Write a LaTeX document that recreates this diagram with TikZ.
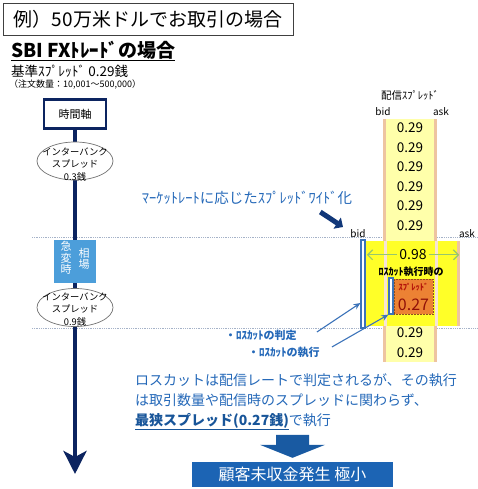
\documentclass[tikz,border=0pt]{standalone}
\usepackage{fontspec}
\setmainfont{Noto Sans CJK JP}
\usetikzlibrary{arrows.meta, positioning, shapes.geometric}
\definecolor{cNavy}{RGB}{12,36,96}
\definecolor{cSky}{RGB}{76,158,218}
\definecolor{cText}{RGB}{36,104,184}
\definecolor{cStrip}{RGB}{255,255,170}
\definecolor{cEdge}{RGB}{238,196,160}
\definecolor{cYellow}{RGB}{255,255,40}
\definecolor{cOrange}{RGB}{236,130,52}
\definecolor{cRed}{RGB}{180,20,10}
\definecolor{cGreen}{RGB}{150,198,110}
\definecolor{cGuide}{RGB}{165,178,200}
\definecolor{cBar}{RGB}{60,115,185}
\definecolor{cDeep}{RGB}{28,100,180}
\tikzset{
  basebox/.style={rectangle, align=center, inner sep=0pt},
  titlebox/.style={basebox, draw=black!75, line width=0.9pt,
                   minimum width=290pt, minimum height=32pt,
                   font=\fontsize{19}{21}\selectfont},
  axisbox/.style={basebox, draw=cNavy, line width=2.4pt, fill=white,
                  minimum width=62pt, minimum height=29pt,
                  font=\fontsize{11}{12}\selectfont},
  bankoval/.style={ellipse, draw=black!55, line width=0.7pt, fill=white,
                   minimum width=76pt, minimum height=38pt, inner sep=0pt},
  ovaltext/.style={basebox, font=\fontsize{9.3}{12.5}\selectfont},
  eventbox/.style={basebox, fill=cSky, minimum width=42pt, minimum height=43pt},
  eventtext/.style={basebox, text=white, font=\fontsize{11}{11.5}\selectfont},
  plain/.style={inner sep=0pt, font=\fontsize{10.5}{12}\selectfont},
  rate/.style={inner sep=0pt, font=\fontsize{13.5}{14}\selectfont},
  sidetag/.style={inner sep=0pt, font=\fontsize{10}{11}\selectfont},
  bluetext/.style={inner sep=0pt, text=cText},
  stripbox/.style={basebox, fill=cStrip, minimum width=54pt, minimum height=243pt},
  spikebox/.style={basebox, fill=cYellow, minimum width=92pt, minimum height=85pt},
  barbox/.style={rectangle, draw=cBar, line width=1.2pt, fill=white,
                 inner sep=0pt, minimum width=4pt},
  timeline/.style={-{Stealth[length=23pt, width=23pt, inset=6pt]},
                   line width=4.5pt, draw=cNavy},
  guide/.style={densely dotted, line width=0.8pt, draw=cGuide},
  edge/.style={line width=3pt, draw=cEdge},
  spanarrow/.style={{Straight Barb[length=5pt,width=10pt]}-{Straight Barb[length=5pt,width=10pt]},
                    line width=1.2pt, draw=cGreen},
  pointer/.style={-{Stealth[length=7pt,width=6pt]}, line width=1.1pt, draw=cBar},
  fatarrow/.style={-{Triangle[length=7pt,width=13pt]}, line width=5pt, draw=cNavy!70!cDeep}
}

\begin{document}
\begin{tikzpicture}[x=1pt, y=-1pt]
  \useasboundingbox (0,0) rectangle (478,489);

  % heading
  \node[titlebox] (title) at (148,19) {例）50万米ドルでお取引の場合};
  \node[inner sep=0pt, anchor=west, font=\fontsize{19}{20}\selectfont\bfseries] (sbi) at (11,51) {\underline{SBI FXﾄﾚｰﾄﾞの場合}};
  \node[plain, anchor=west, font=\fontsize{13.5}{14}\selectfont] (base) at (11,71) {基準ｽﾌﾟﾚｯﾄﾞ 0.29銭};
  \node[inner sep=0pt, anchor=west, font=\fontsize{9}{10}\selectfont] (lot) at (9,85) {（注文数量：10,001～500,000）};

  % time axis
  \draw[guide] (32,237) -- (478,237);
  \draw[guide] (32,328) -- (478,328);
  \node[axisbox] (axis) at (75,114) {時間軸};
  \coordinate (axisend) at (75,474);
  \draw[timeline] (axis) -- (axisend);
  \node[bankoval] (bank1) at (75,161) {};
  \node[ovaltext] (bank1txt) at (75,164.5) {インターバンク\\スプレッド\\0.3銭};
  \node[eventbox] (sudden) at (75,261.5) {};
  \node[eventtext] (suddenR) at (84,259) {相\\場};
  \node[eventtext] (suddenL) at (66,258) {急\\変\\時};
  \node[bankoval] (bank2) at (75,307.5) {};
  \node[ovaltext] (bank2txt) at (75,309.5) {インターバンク\\スプレッド\\0.9銭};

  % feed spread column
  \node[stripbox] (strip) at (410,240.5) {};
  \draw[edge] ([xshift=1.5pt]strip.north west) -- ([xshift=1.5pt]strip.south west);
  \draw[edge] ([xshift=-1.5pt]strip.north east) -- ([xshift=-1.5pt]strip.south east);
  \node[plain] (feed) at (410,95) {配信ｽﾌﾟﾚｯﾄﾞ};
  \node[sidetag] (bid1) at (383,112) {bid};
  \node[sidetag] (ask1) at (441,112) {ask};
  \foreach \y [count=\i] in {128,147.5,167,186.5,206,225.5}
    \node[rate] (top\i) at (410,\y) {0.29};
  \node[rate] (low1) at (410,333) {0.29};
  \node[rate] (low2) at (410,353) {0.29};

  % widened spread
  \node[spikebox] (spike) at (411,283.5) {};
  \draw[edge, draw=cEdge!45] ([xshift=-26pt]spike.north) -- ([xshift=-26pt]spike.south);
  \draw[edge, draw=cEdge!45] ([xshift=25pt]spike.north) -- ([xshift=25pt]spike.south);
  \draw[edge] ([xshift=1.5pt]spike.north east) -- ([xshift=1.5pt]spike.south east);
  \node[barbox, minimum height=88pt] (bidbar) at (363,284) {};
  \node[sidetag] (bid2) at (358,234) {bid};
  \node[sidetag] (ask2) at (467,234) {ask};
  \draw[spanarrow] ([xshift=2pt,yshift=-14pt]spike.north west) -- node[rate, fill=cYellow, inner xsep=2pt, font=\fontsize{14}{15}\selectfont] (gap) {0.98} ([xshift=2pt,yshift=-14pt]spike.north east);
  \node[inner sep=0pt, font=\fontsize{10}{11}\selectfont\bfseries] (lchead) at (411,272) {ﾛｽｶｯﾄ執行時の};
  \node[basebox, fill=cOrange, draw=cOrange!60!black, densely dotted, line width=0.5pt,
        minimum width=39pt, minimum height=35pt] (losscut) at (413.5,296.5) {};
  \node[inner sep=0pt, text=cRed, font=\fontsize{8.5}{9}\selectfont\bfseries] (lcspr) at (413.5,287) {ｽﾌﾟﾚｯﾄﾞ};
  \node[inner sep=0pt, text=cRed!80!black, font=\fontsize{16}{17}\selectfont] (lcval) at (413.5,305) {0.27};
  \node[barbox, minimum height=36pt] (execbar) at (391,296) {};

  % notes
  \node[bluetext, font=\fontsize{14.5}{15}\selectfont] (widen) at (247,198) {ﾏｰｹｯﾄﾚｰﾄに応じたｽﾌﾟﾚｯﾄﾞﾜｲﾄﾞ化};
  \coordinate (widentip) at (343,227);
  \draw[fatarrow] ([xshift=-32pt,yshift=-14pt]widen.east) -- (widentip);
  \node[bluetext, anchor=west, font=\fontsize{11}{12}\selectfont\bfseries] (judge) at (225,335) {・ﾛｽｶｯﾄの判定};
  \node[bluetext, anchor=west, font=\fontsize{11}{12}\selectfont\bfseries] (exec) at (248,352) {・ﾛｽｶｯﾄの執行};
  \draw[pointer] ([xshift=20pt,yshift=3pt]judge.east) -- ([yshift=-19pt]bidbar.west);
  \draw[pointer] ([xshift=12pt,yshift=5pt]exec.east) -- (execbar.south west);

  \node[bluetext, anchor=north west, align=left, font=\fontsize{14}{20}\selectfont] (note) at (135,373)
    {ロスカットは配信レートで判定されるが、その執行\\は取引数量や配信時のスプレッドに関わらず、\\{\bfseries\textcolor{cDeep!85!black}{\underline{最狭スプレッド(0.27銭)}}}で執行};

  % outcome
  \node[basebox, fill=cDeep, text=white, minimum width=201pt, minimum height=25pt,
        font=\fontsize{16}{17}\selectfont] (result) at (292.5,474.5) {顧客未収金発生\ 極小};
  \fill[cDeep!90!black, shift={(result.north)}] (-16.5,-27) -- (16.5,-27) -- (16.5,-17)
    -- (32.5,-17) -- (0,-4) -- (-32.5,-17) -- (-16.5,-17) -- cycle;
\end{tikzpicture}
\end{document}
